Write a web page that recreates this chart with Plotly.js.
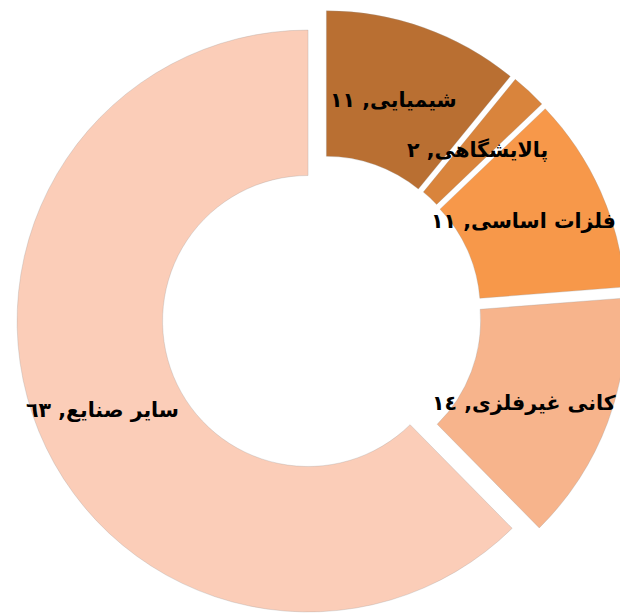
<!DOCTYPE html>
<html>
<head>
<meta charset="utf-8">
<script src="https://cdn.plot.ly/plotly-3.0.1.min.js"></script>
<style>
html, body { margin: 0; padding: 0; overflow: hidden; background: #ffffff; }
#chart { width: 640px; height: 640px; }
</style>
</head>
<body>
<div id="chart"></div>
<script>
// Data
var categories = ['شیمیایی', 'پالایشگاهی', 'فلزات اساسی', 'کانی غیرفلزی', 'سایر صنایع'];
var values = [11, 2, 11, 14, 63];
var valueLabels = ['١١', '٢', '١١', '١٤', '٦٣'];

// Styles / positions (kept apart from the data)
var sliceColors = ['#B96F32', '#D9843C', '#F7984A', '#F7B48C', '#FBCDB8'];
var labelPosX = [0.618, 0.756, 0.830, 0.832, 0.142];
var labelPosY = [0.853, 0.771, 0.655, 0.357, 0.345];

var trace = {
  type: 'pie',
  labels: categories,
  values: values,
  sort: false,
  direction: 'clockwise',
  rotation: 0,
  hole: 0.5,
  pull: categories.map(function () { return 0.05; }),
  marker: { colors: sliceColors, line: { color: 'rgba(150,150,150,0.35)', width: 0.8 } },
  textinfo: 'none',
  hoverinfo: 'none',
  showlegend: false
};

var annotations = categories.map(function (c, i) {
  return {
    xref: 'paper', yref: 'paper',
    x: labelPosX[i], y: labelPosY[i],
    xanchor: 'center', yanchor: 'middle',
    showarrow: false,
    text: '<b>' + c + ', ' + valueLabels[i] + '</b>',
    font: { family: 'DejaVu Sans', size: 20.5, color: '#000000' }
  };
});

var layout = {
  width: 640,
  height: 640,
  margin: { l: 16, r: 13, t: 10, b: 19 },
  paper_bgcolor: '#ffffff',
  plot_bgcolor: '#ffffff',
  showlegend: false,
  annotations: annotations
};

Plotly.newPlot('chart', [trace], layout, { displayModeBar: false, staticPlot: true });
</script>
</body>
</html>
